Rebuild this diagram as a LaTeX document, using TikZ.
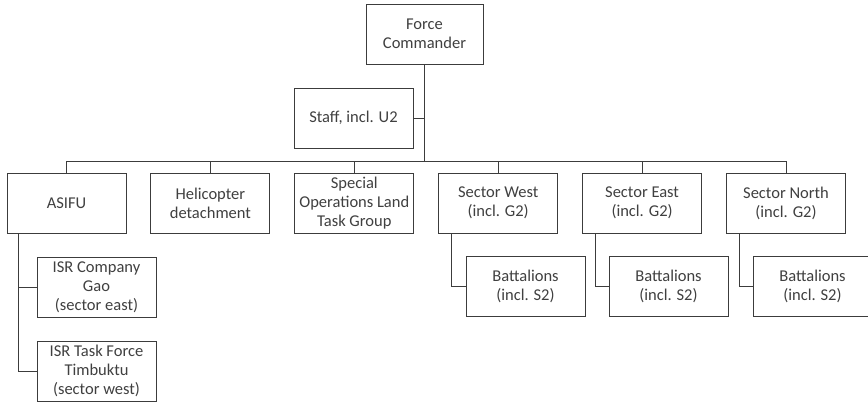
\documentclass[tikz,border=0pt]{standalone}
\usepackage{fontspec}
\setmainfont{Carlito}
\usetikzlibrary{positioning,calc}
\definecolor{boxline}{HTML}{3C3C3C}
\definecolor{boxtext}{HTML}{404040}

\begin{document}
\begin{tikzpicture}[x=1pt,y=-1pt]
\tikzset{unit/.style={rectangle,draw=boxline,line width=0.9pt,fill=white,text=boxtext,
  minimum width=119pt,minimum height=60pt,align=center,inner sep=1pt,
  font=\fontsize{16.5}{19}\selectfont}}
\tikzset{link/.style={draw=boxline,line width=0.9pt}}
\useasboundingbox (0,0) rectangle (868,404);

% top level
\node [unit, minimum width=117pt] (fc) at (424.5,34) {Force\\Commander};
\node [unit] (staff) at (353.5,118) {Staff, incl. U2};
\coordinate (bus) at (0,161);

% second row
\node [unit] (asifu) at (66.5,203) {ASIFU};
\node [unit, right=24pt of asifu] (heli) {Helicopter\\detachment};
\node [unit, right=24pt of heli] (solt) {Special\\Operations Land\\Task Group};
\node [unit, right=24pt of solt] (west) {Sector West\\(incl. G2)};
\node [unit, right=24pt of west] (east) {Sector East\\(incl. G2)};
\node [unit, right=24pt of east] (north) {Sector North\\(incl. G2)};

% third row
\node [unit] (isrgao) at (96.5,287) {ISR Company\\Gao\\(sector east)};
\node [unit] (isrtim) at (96.5,371) {ISR Task Force\\Timbuktu\\(sector west)};
\node [unit] (batw) at (525.5,286.5) {Battalions\\(incl. S2)};
\node [unit] (bate) at (668.5,286.5) {Battalions\\(incl. S2)};
\node [unit] (batn) at (812.5,286.5) {Battalions\\(incl. S2)};

% connectors
\path [link] (fc.south) -- (fc.south |- bus);
\path [link] (staff.east) -- (staff.east -| fc.south);
\path [link] (asifu.north |- bus) -- (north.north |- bus);
\foreach \n in {asifu,heli,solt,west,east,north}
  \path [link] (\n.north) -- (\n.north |- bus);

\path [link] ([xshift=12pt]asifu.south west) |- (isrgao.west);
\path [link] ([xshift=12pt]asifu.south west) |- (isrtim.west);
\path [link] ([xshift=13pt]west.south west) |- (batw.west);
\path [link] ([xshift=13pt]east.south west) |- (bate.west);
\path [link] ([xshift=13pt]north.south west) |- (batn.west);
\end{tikzpicture}
\end{document}
